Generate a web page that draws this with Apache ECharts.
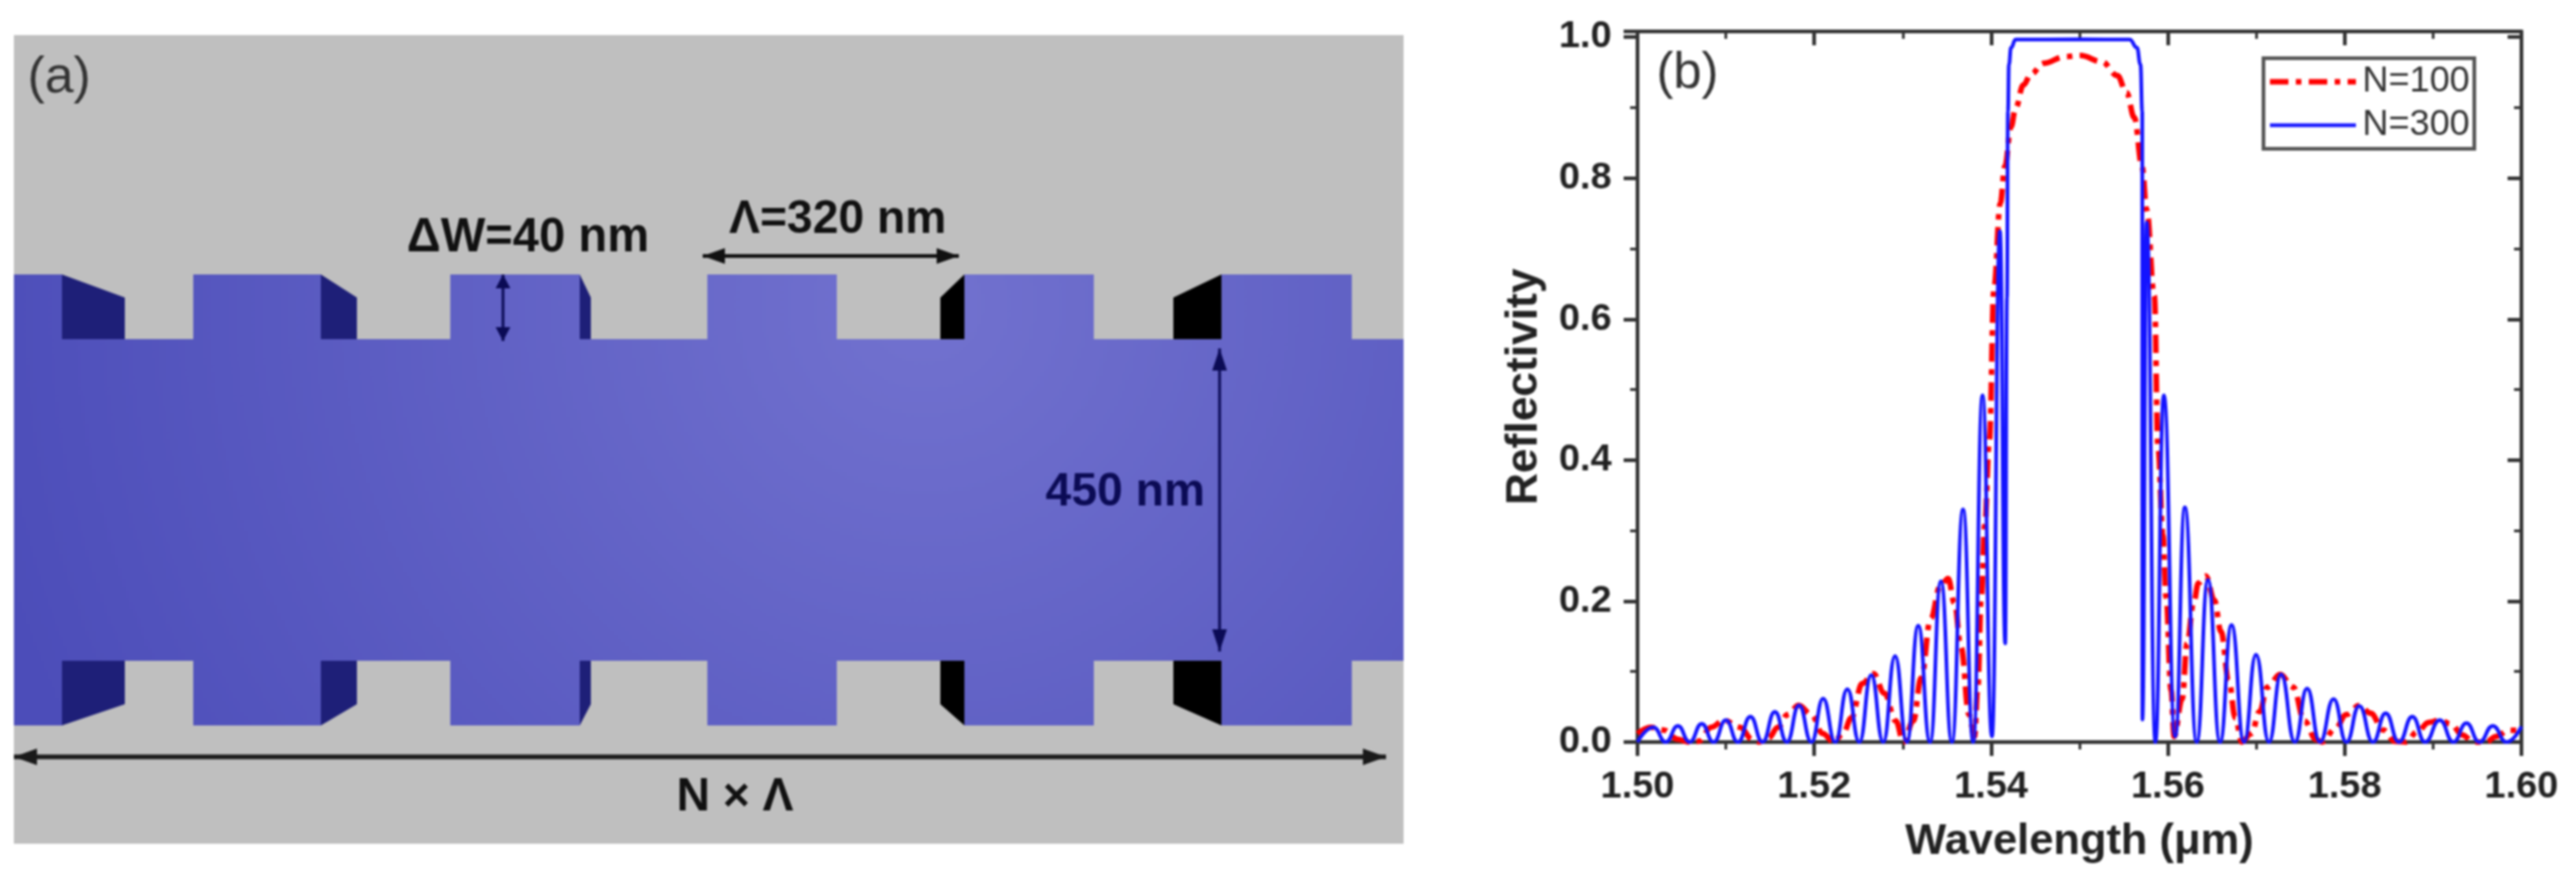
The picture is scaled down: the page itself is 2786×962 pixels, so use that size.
<!DOCTYPE html>
<html>
<head>
<meta charset="utf-8">
<title>Grating reflectivity</title>
<style>
  html, body { margin: 0; padding: 0; background: #fff; }
  #main { width: 2786px; height: 962px; filter: blur(0.8px); }
</style>
<script src="https://cdn.jsdelivr.net/npm/echarts@6/dist/echarts.min.js"></script>
</head>
<body>
<div id="main"></div>
<script>
// values: [wavelength um, reflectivity]
var n100 = [
  [1.5,.012],[1.50151,.021],[1.50295,.017],[1.50457,.004],[1.5058,0],[1.5069,.001],[1.50835,.021],[1.50978,.031],
  [1.51158,.021],[1.51302,.0035],[1.5137,0],[1.51482,.006],[1.5159,.021],[1.51698,.039],[1.51824,.052],[1.51968,.039],
  [1.52094,.012],[1.5222,0],[1.52327,.012],[1.52417,.034],[1.52543,.083],[1.52669,.097],[1.52795,.069],[1.52921,.03],
  [1.5301,0],[1.5312,.03],[1.53209,.091],[1.53317,.175],[1.53424,.221],[1.53514,.232],[1.53586,.197],[1.5366,.135],
  [1.5375,.039],[1.53813,.008],[1.53848,.074],[1.5389,.206],[1.53928,.307],[1.5398,.4255],[1.54034,.646],[1.54104,.764],
  [1.54156,.8165],[1.54226,.873],[1.54278,.8995],[1.54365,.932],[1.54453,.9476],[1.54592,.9627],[1.54836,.9722],[1.55011,.9738],
  [1.55254,.965],[1.55429,.9453],[1.55533,.9214],[1.5562,.886],[1.55708,.8165],[1.5576,.755],[1.55847,.633],[1.55889,.4167],
  [1.55944,.2937],[1.5598,.2057],[1.56036,.074],[1.56071,.008],[1.56162,.061],[1.56217,.14],[1.56291,.197],[1.56345,.2255],
  [1.56429,.2356],[1.56527,.2013],[1.566,.157],[1.5669,.087],[1.56764,.034],[1.56836,0],[1.56945,.012],[1.57036,.043],
  [1.57127,.078],[1.5727,.096],[1.57417,.078],[1.57546,.03],[1.57674,.0035],[1.57747,0],[1.57893,.019],[1.5802,.039],
  [1.58165,.052],[1.58293,.041],[1.58438,.017],[1.58567,.001],[1.58693,0],[1.58822,.0145],[1.5895,.028],[1.59076,.031],
  [1.59204,.0255],[1.5933,.01],[1.59458,0],[1.596,0],[1.59711,.008],[1.59857,.0167],[1.6,.0167]
];
var n300 = [
  [1.5,0],[1.5018,.021],[1.5032,0],[1.50457,.023],[1.5059,0],[1.50727,.026],[1.5086,0],[1.51,.031],
  [1.51137,0],[1.51277,.036],[1.51414,0],[1.51554,.043],[1.5169,0],[1.51827,.052],[1.51968,0],[1.521,.0615],
  [1.52237,0],[1.52374,.075],[1.5251,0],[1.52644,.095],[1.5278,0],[1.52914,.122],[1.53047,0],[1.53176,.165],
  [1.5331,0],[1.53432,.228],[1.53557,0],[1.53683,.33],[1.53798,0],[1.53903,.492],[1.5401,.008],[1.541,.7245],
  [1.5416,.14],[1.5418,.63],[1.54191,.895],[1.54202,.961],[1.54226,.985],[1.54278,.9965],[1.55,.9968],[1.55568,.9965],
  [1.5565,.985],[1.5569,.961],[1.5571,.895],[1.55712,.032],[1.5576,.737],[1.55859,0],[1.55954,.492],[1.56083,.008],
  [1.56192,.333],[1.56326,0],[1.56454,.23],[1.5659,0],[1.5672,.166],[1.56862,0],[1.56997,.124],[1.57144,0],
  [1.5728,.096],[1.57437,0],[1.57575,.076],[1.5772,0],[1.57875,.061],[1.5802,0],[1.58165,.051],[1.5832,0],
  [1.58464,.041],[1.58614,0],[1.58766,.036],[1.5891,0],[1.59076,.031],[1.5923,0],[1.59378,.027],[1.59524,0],
  [1.59676,.023],[1.5983,0],[1.6,.022]
];
var seriesNames = ['N=100', 'N=300'];

// panel (a): the waveguide schematic
var toothSpans = [[15,67],[209,347],[487,627],[765,905],[1043,1183],[1321,1462]];
var rightWalls = [[67,135],[347,386],[627,639]];   // seen on the right of a tooth
var leftWalls = [[1017,1043],[1269,1321]];         // seen on the left of a tooth
var font = '"Liberation Sans", Arial, sans-serif';
var waveguideFill = {
  type: 'radial', x: 1000, y: 330, r: 1050, global: true,
  colorStops: [{offset: 0, color: '#7272cf'}, {offset: 1, color: '#4c4db9'}]
};

function poly(points, fill) {
  return {type: 'polygon', shape: {points: points}, style: {fill: fill}};
}
function label(text, x, y, size, color, weight) {
  return {
    type: 'text', x: x, y: y,
    style: {text: text, fill: color, font: (weight || 'bold') + ' ' + size + 'px ' + font, align: 'center', verticalAlign: 'middle'}
  };
}
// straight arrow with a head on each end
function arrow(x1, y1, x2, y2, color, lw, len, wid) {
  var horiz = y1 === y2;
  var list = [{type: 'line', shape: {x1: x1, y1: y1, x2: x2, y2: y2}, style: {stroke: color, lineWidth: lw}}];
  if (horiz) {
    list.push(poly([[x1, y1], [x1 + len, y1 - wid / 2], [x1 + len, y1 + wid / 2]], color));
    list.push(poly([[x2, y2], [x2 - len, y2 - wid / 2], [x2 - len, y2 + wid / 2]], color));
  } else {
    list.push(poly([[x1, y1], [x1 - wid / 2, y1 + len], [x1 + wid / 2, y1 + len]], color));
    list.push(poly([[x2, y2], [x2 - wid / 2, y2 - len], [x2 + wid / 2, y2 - len]], color));
  }
  return list;
}

var yTop = 297, yCoreTop = 367, yCoreBot = 715, yBot = 785, yCutTop = 322, yCutBot = 762;

var outline = [[15, yCoreTop]];
toothSpans.forEach(function (s) {
  outline.push([s[0], yCoreTop], [s[0], yTop], [s[1], yTop], [s[1], yCoreTop]);
});
outline.push([1518, yCoreTop], [1518, yCoreBot]);
toothSpans.slice().reverse().forEach(function (s) {
  outline.push([s[1], yCoreBot], [s[1], yBot], [s[0], yBot], [s[0], yCoreBot]);
});
outline.push([15, yCoreBot]);

var schematic = [
  {type: 'rect', shape: {x: 15, y: 38, width: 1503, height: 875}, style: {fill: '#bfbfbf'}},
  poly(outline, waveguideFill)
];
rightWalls.forEach(function (w) {
  schematic.push(poly([[w[0], yTop], [w[1], yCutTop], [w[1], yCoreTop], [w[0], yCoreTop]], '#1e1f78'));
  schematic.push(poly([[w[0], yCoreBot], [w[1], yCoreBot], [w[1], yCutBot], [w[0], yBot]], '#1e1f78'));
});
leftWalls.forEach(function (w) {
  schematic.push(poly([[w[1], yTop], [w[0], yCutTop], [w[0], yCoreTop], [w[1], yCoreTop]], '#000'));
  schematic.push(poly([[w[1], yCoreBot], [w[0], yCoreBot], [w[0], yCutBot], [w[1], yBot]], '#000'));
});
schematic = schematic.concat(
  arrow(15, 819, 1499, 819, '#1a1a1a', 5, 25, 18),
  arrow(760, 277, 1037, 277, '#111', 4, 24, 17),
  arrow(544, 297, 544, 369, '#0b0b55', 3, 15, 16),
  arrow(1319, 377, 1319, 705, '#0b0b55', 3, 24, 16),
  [
    label('(a)', 64, 85, 56, '#333', 'normal'),
    label('ΔW=40 nm', 571, 258, 51, '#111'),
    label('Λ=320 nm', 906, 238, 50, '#111'),
    label('450 nm', 1217, 533, 50, '#0b0b55'),
    label('N × Λ', 795, 863, 50, '#111'),
    label('(b)', 1825, 80, 55, '#333', 'normal')
  ]
);

var axisColor = '#333';
var axisLine = {show: true, onZero: false, lineStyle: {color: axisColor, width: 4}};
var majorTick = {show: true, length: 15, lineStyle: {color: axisColor, width: 4}};
var minorTick = {show: true, splitNumber: 2, length: 8, lineStyle: {color: axisColor, width: 3}};
var xRange = {type: 'value', min: 1.5, max: 1.6, interval: 0.02, splitLine: {show: false}};
var yRange = {type: 'value', min: 0, max: 1.008, interval: 0.2, splitLine: {show: false}};
var tickFont = {fontFamily: font, fontWeight: 'bold', fontSize: 41, color: '#222'};

var option = {
  animation: false,
  backgroundColor: '#fff',
  graphic: schematic,
  grid: {left: 1771, top: 34, width: 956, height: 769},
  legend: {
    left: 2448, top: 63, orient: 'vertical', padding: [6, 5, 6, 4], itemGap: 8,
    itemWidth: 93, itemHeight: 20, itemStyle: {opacity: 0},
    lineStyle: {width: 'inherit'},
    borderColor: '#555', borderWidth: 4, borderRadius: 0,
    textStyle: {fontFamily: font, fontSize: 39, color: '#333', padding: [0, 0, 0, 2]},
    data: seriesNames
  },
  xAxis: [
    Object.assign({}, xRange, {
      position: 'bottom', axisLine: axisLine, axisTick: majorTick, minorTick: minorTick,
      name: 'Wavelength (μm)', nameLocation: 'middle', nameGap: 85,
      nameTextStyle: {fontFamily: font, fontWeight: 'bold', fontSize: 47, color: '#222'},
      axisLabel: Object.assign({margin: 28, formatter: function (v) { return v.toFixed(2); }}, tickFont)
    }),
    Object.assign({}, xRange, {
      position: 'top', axisLine: axisLine, minorTick: minorTick,
      axisTick: Object.assign({inside: true}, majorTick), axisLabel: {show: false}
    })
  ],
  yAxis: [
    Object.assign({}, yRange, {
      position: 'left', axisLine: axisLine, axisTick: majorTick, minorTick: minorTick,
      name: 'Reflectivity', nameLocation: 'middle', nameGap: 98,
      nameTextStyle: {fontFamily: font, fontWeight: 'bold', fontSize: 48, color: '#222'},
      axisLabel: Object.assign({margin: 28, showMaxLabel: false, formatter: function (v) { return v.toFixed(1); }}, tickFont)
    }),
    Object.assign({}, yRange, {
      position: 'right', axisLine: axisLine, minorTick: minorTick,
      axisTick: Object.assign({inside: true}, majorTick), axisLabel: {show: false}
    })
  ],
  series: [
    {
      name: seriesNames[0], type: 'line', data: n100, showSymbol: false, symbol: 'none',
      smooth: 0.4, smoothMonotone: 'x', z: 2,
      lineStyle: {color: '#ff0000', width: 6, type: [20, 8, 6, 8]}
    },
    {
      name: seriesNames[1], type: 'line', data: n300, showSymbol: false, symbol: 'none',
      smooth: 0.5, smoothMonotone: 'x', z: 3,
      lineStyle: {color: '#1414ff', width: 4}
    }
  ]
};

var chart = echarts.init(document.getElementById('main'));
chart.setOption(option);
</script>
</body>
</html>
